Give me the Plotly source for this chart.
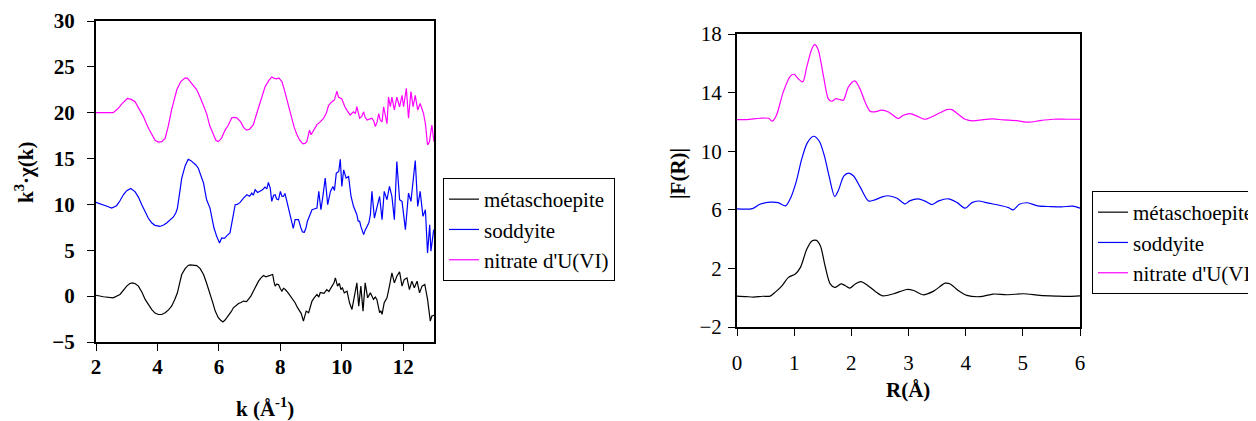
import plotly.graph_objects as go

# ---------------- Left panel: k^3 chi(k) ----------------
k_meta = [2.00,2.24,2.56,2.78,3.00,3.10,3.19,3.28,3.38,3.50,3.60,3.70,3.81,3.92,4.03,4.14,4.25,4.36,4.46,4.56,
          4.65,4.72,4.79,4.90,5.00,5.06,5.17,5.28,5.39,5.50,5.60,5.71,5.80,5.88,5.98,6.05,6.13,6.20,6.31,6.40,
          6.47,6.55,6.64,6.72,6.80,6.90,6.96,7.04,7.12,7.20,7.29,7.37,7.45,7.53,7.61,7.68,7.75,7.79,7.83,7.88,
          7.94,8.00,8.05,8.10,8.16,8.24,8.32,8.40,8.48,8.55,8.62,8.68,8.75,8.80,8.84,8.92,8.97,9.03,9.10,9.19,
          9.25,9.30,9.35,9.42,9.51,9.58,9.68,9.74,9.79,9.83,9.86,9.92,9.97,10.02,10.08,10.17,10.25,10.33,10.40,10.49,
          10.55,10.62,10.69,10.76,10.84,10.93,11.03,11.09,11.14,11.23,11.27,11.31,11.38,11.47,11.55,11.63,11.71,11.79,11.88,11.96,
          12.03,12.12,12.20,12.28,12.36,12.45,12.53,12.61,12.70,12.79,12.88,12.93,13.00]
chi_meta = [0.10,-0.07,-0.18,0.18,1.09,1.38,1.45,1.35,1.09,0.40,-0.36,-0.95,-1.45,-1.85,-2.00,-2.00,-1.81,-1.50,-1.09,-0.40,
            0.36,1.40,2.36,3.00,3.35,3.41,3.40,3.33,3.00,2.36,1.40,0.36,-0.70,-1.63,-2.35,-2.60,-2.82,-2.60,-2.17,-1.70,
            -1.27,-1.00,-0.80,-0.70,-0.54,-0.60,-0.36,0.00,0.54,1.10,1.63,2.00,2.25,2.10,2.17,2.30,2.36,1.60,1.09,1.30,
            1.27,0.80,0.54,0.85,0.72,0.40,0.00,-0.30,-0.72,-1.20,-1.63,-1.90,-2.72,-1.90,-1.63,-1.81,-1.10,-0.54,-0.20,0.18,
            -0.10,0.40,0.36,0.30,0.72,0.50,1.09,1.40,1.99,1.30,1.09,1.40,0.72,0.90,0.36,0.54,-0.72,-1.45,0.00,1.45,
            -1.09,1.09,-1.63,1.45,-0.18,0.36,-0.36,-0.10,-0.36,-1.81,-1.60,-1.99,-0.72,-0.18,1.09,2.54,1.45,2.17,2.65,1.09,
            1.81,1.99,0.72,1.63,0.91,1.63,0.36,1.09,1.27,-0.36,-2.72,-2.17,-2.10]

k_sod = [2.00,2.24,2.40,2.51,2.67,2.78,2.89,3.00,3.13,3.27,3.38,3.49,3.60,3.70,3.81,3.92,4.08,4.20,4.30,4.40,
         4.52,4.60,4.65,4.72,4.79,4.90,5.00,5.08,5.17,5.25,5.33,5.42,5.50,5.55,5.60,5.71,5.78,5.84,5.92,6.02,
         6.09,6.18,6.26,6.36,6.42,6.48,6.53,6.60,6.69,6.80,6.91,7.00,7.07,7.12,7.18,7.26,7.34,7.42,7.50,7.56,
         7.61,7.67,7.72,7.78,7.83,7.88,7.94,8.00,8.05,8.10,8.15,8.21,8.30,8.37,8.42,8.48,8.59,8.67,8.72,8.78,
         8.83,8.88,8.95,9.03,9.10,9.19,9.25,9.32,9.38,9.46,9.54,9.63,9.71,9.76,9.82,9.90,9.95,10.00,10.06,10.14,
         10.22,10.30,10.38,10.44,10.49,10.53,10.58,10.62,10.66,10.71,10.76,10.82,10.88,10.93,10.98,11.06,11.15,11.23,11.31,11.38,
         11.47,11.55,11.63,11.71,11.79,11.88,11.96,12.07,12.17,12.25,12.39,12.47,12.55,12.64,12.72,12.79,12.86,12.90,12.99]
chi_sod = [10.22,9.97,9.75,9.60,9.86,10.40,11.05,11.50,11.74,11.40,10.80,9.97,9.20,8.52,8.00,7.72,7.60,7.75,7.97,8.25,
           8.63,9.10,9.60,11.20,12.87,14.20,14.93,14.80,14.57,14.30,13.95,13.20,12.32,11.40,10.50,9.60,8.50,7.43,6.60,5.80,
           6.35,6.30,6.60,6.89,7.97,9.20,9.97,10.00,10.22,10.69,11.05,10.90,11.23,11.00,11.60,11.30,11.42,11.60,11.89,11.70,
           12.40,11.78,10.33,11.00,11.05,10.60,10.51,11.42,10.90,10.87,11.20,10.33,8.88,7.97,7.40,8.34,8.34,7.43,7.00,6.96,
           7.40,8.16,8.80,9.42,9.50,9.60,11.42,9.42,10.80,12.87,9.97,11.42,11.96,11.50,13.41,13.59,14.93,11.96,13.77,12.87,
           13.05,10.87,9.79,9.20,8.88,8.20,8.16,7.60,7.25,6.71,7.20,7.61,8.00,8.88,11.42,8.52,9.79,10.87,8.34,11.42,
           10.51,11.96,10.87,8.34,14.68,10.51,10.33,7.25,11.23,10.33,14.79,9.79,11.42,8.70,9.42,4.70,7.79,4.90,7.25]

k_nit = [2.00,2.30,2.56,2.70,2.85,3.02,3.15,3.27,3.40,3.54,3.68,3.81,3.92,4.03,4.14,4.25,4.35,4.46,4.55,4.63,
         4.76,4.90,4.98,5.06,5.17,5.28,5.40,5.50,5.60,5.70,5.82,5.90,5.98,6.08,6.20,6.30,6.42,6.50,6.58,6.71,
         6.80,6.90,7.00,7.12,7.22,7.34,7.42,7.50,7.62,7.72,7.80,7.88,7.95,8.05,8.13,8.21,8.29,8.37,8.45,8.54,
         8.63,8.73,8.80,8.86,8.95,9.00,9.10,9.19,9.30,9.41,9.50,9.57,9.68,9.76,9.84,9.89,10.00,10.05,10.10,10.18,
         10.27,10.38,10.44,10.49,10.58,10.65,10.71,10.76,10.82,10.90,10.98,11.04,11.09,11.15,11.20,11.25,11.31,11.36,11.42,11.47,
         11.52,11.58,11.63,11.67,11.71,11.79,11.88,11.96,12.01,12.10,12.17,12.25,12.32,12.39,12.47,12.55,12.61,12.66,12.72,12.79,
         12.85,12.88,12.93,13.00]
chi_nit = [20.00,20.00,20.00,20.40,21.00,21.55,21.45,21.20,20.50,19.60,18.50,17.60,17.00,16.80,16.85,17.20,18.50,20.30,21.50,22.50,
           23.40,23.80,23.75,23.40,23.00,22.50,21.60,20.70,19.90,18.60,17.60,17.00,16.85,17.20,18.10,18.60,19.45,19.50,19.45,19.00,
           18.40,18.10,18.20,18.70,19.80,21.00,22.00,22.80,23.50,23.90,23.75,23.70,23.80,23.40,22.50,21.40,20.30,19.20,18.40,17.60,
           17.00,16.60,16.65,16.85,18.10,17.60,18.20,18.70,19.00,19.40,20.00,20.80,21.20,21.40,22.35,21.70,21.50,21.00,20.65,20.20,
           19.75,20.10,19.90,20.65,19.40,19.60,20.10,19.50,19.20,19.30,19.40,19.10,18.50,19.00,19.90,19.20,19.00,20.65,19.50,18.80,
           21.70,20.65,21.70,21.00,20.30,21.70,20.65,21.90,20.65,22.65,19.40,22.30,20.65,21.90,20.30,21.00,20.30,19.90,18.80,16.50,
           16.80,17.40,18.65,16.85]

# ---------------- Right panel: |F(R)| ----------------
R_meta = [0.00,0.15,0.29,0.45,0.58,0.67,0.79,0.90,1.02,1.11,1.22,1.31,1.39,1.46,1.54,1.63,1.71,1.82,1.89,1.97,
          2.07,2.17,2.27,2.42,2.55,2.74,2.97,3.09,3.25,3.44,3.64,3.73,3.87,4.02,4.25,4.48,4.72,5.01,5.30,5.59,
          5.77,6.00]
F_meta = [0.11,0.08,0.04,0.10,0.11,0.38,0.83,1.39,1.62,2.07,3.30,3.87,3.91,3.53,2.18,0.94,0.70,0.94,0.83,0.65,
          0.94,1.10,0.88,0.43,0.13,0.27,0.56,0.49,0.20,0.45,0.99,0.94,0.49,0.16,0.07,0.25,0.20,0.27,0.16,0.11,
          0.09,0.13]

R_sod = [0.00,0.27,0.40,0.58,0.72,0.85,0.94,1.04,1.13,1.23,1.34,1.44,1.53,1.61,1.71,1.77,1.87,1.95,2.04,2.16,
         2.30,2.41,2.54,2.64,2.80,2.94,3.02,3.17,3.28,3.41,3.53,3.70,3.85,3.99,4.11,4.22,4.40,4.59,4.75,4.83,
         4.94,5.08,5.26,5.49,5.68,5.87,6.00]
F_sod = [6.06,6.08,6.38,6.52,6.49,6.27,6.83,7.97,9.44,10.57,11.02,10.68,9.66,8.31,6.90,7.29,8.31,8.50,8.31,7.51,
         6.60,6.68,6.88,6.96,6.79,6.40,6.61,6.75,6.61,6.36,6.61,6.75,6.49,6.11,6.49,6.60,6.45,6.31,6.15,6.00,
         6.38,6.48,6.27,6.22,6.20,6.25,6.11]

R_nit = [0.00,0.17,0.40,0.55,0.62,0.69,0.81,0.93,1.00,1.07,1.15,1.22,1.31,1.36,1.42,1.51,1.60,1.66,1.73,1.80,
         1.86,1.95,2.06,2.15,2.24,2.33,2.41,2.53,2.65,2.73,2.82,2.91,3.03,3.14,3.29,3.43,3.58,3.67,3.76,3.87,
         3.99,4.13,4.31,4.48,4.66,4.89,5.10,5.30,5.53,5.77,6.00]
F_nit = [12.16,12.16,12.25,12.25,12.05,12.45,14.05,15.11,15.25,14.95,14.73,15.75,17.00,17.27,16.93,15.18,13.55,13.41,13.59,13.52,
         13.48,14.39,14.80,14.27,13.36,12.73,12.68,12.80,12.68,12.45,12.23,12.45,12.57,12.41,12.18,12.39,12.68,12.84,12.84,12.52,
         12.18,12.07,12.16,12.20,12.14,12.09,11.98,12.09,12.18,12.18,12.18]

names = ["métaschoepite", "soddyite", "nitrate d'U(VI)"]
colors = ["#000000", "#0000FF", "#FF00FF"]

# The page body has an 8 px margin: the figure starts at (8, 8) in the window.
OFF = 8
W, H = 1256 - OFF, 421 - OFF
SERIF = "Liberation Serif"

fig = go.Figure()
left = [(k_meta, chi_meta), (k_sod, chi_sod), (k_nit, chi_nit)]
right = [(R_meta, F_meta), (R_sod, F_sod), (R_nit, F_nit)]
for i in range(3):
    fig.add_trace(go.Scatter(x=left[i][0], y=left[i][1], mode="lines", name=names[i],
                             line=dict(color=colors[i], width=1.2), xaxis="x", yaxis="y",
                             legend="legend"))
for i in range(3):
    fig.add_trace(go.Scatter(x=right[i][0], y=right[i][1], mode="lines", name=names[i],
                             line=dict(color=colors[i], width=1.2, shape="spline", smoothing=0.8),
                             xaxis="x2", yaxis="y2", legend="legend2"))

def px_x(p):
    return (p - OFF) / W

def px_y(p):
    return (421 - p) / H

axis_common = dict(showline=True, mirror=True, linewidth=2, linecolor="black",
                   ticks="outside", ticklen=7, tickwidth=1, tickcolor="black",
                   showgrid=False, zeroline=False, automargin=False)

bold_tick = dict(family=SERIF, size=21, color="black", weight="bold")
reg_tick = dict(family=SERIF, size=21, color="black")

fig.update_layout(
    width=W, height=H,
    font=dict(family=SERIF, color="black"),
    margin=dict(l=0, r=0, t=0, b=0, autoexpand=False),
    paper_bgcolor="white", plot_bgcolor="white",
    xaxis=dict(domain=[px_x(96), px_x(434)], range=[2, 13], dtick=2, tick0=2,
               tickfont=bold_tick, anchor="y", ticklabelstandoff=-2, **axis_common),
    yaxis=dict(domain=[px_y(342), px_y(21)], range=[-5, 30], dtick=5,
               tickfont=bold_tick, anchor="x", ticklabelstandoff=8, **axis_common),
    xaxis2=dict(domain=[px_x(737), px_x(1080)], range=[0, 6], dtick=1,
                tickfont=reg_tick, anchor="y2", ticklabelstandoff=9, **axis_common),
    yaxis2=dict(domain=[px_y(327), px_y(34)], range=[-2, 18], dtick=4, tick0=-2,
                tickfont=reg_tick, anchor="x2", ticklabelstandoff=2, **axis_common),
    legend=dict(x=px_x(443), y=px_y(178), xanchor="left", yanchor="top",
                bgcolor="white", bordercolor="black", borderwidth=1,
                font=dict(family=SERIF, size=21, color="black"), tracegroupgap=0),
    legend2=dict(x=px_x(1092), y=px_y(191), xanchor="left", yanchor="top",
                 bgcolor="white", bordercolor="black", borderwidth=1,
                 font=dict(family=SERIF, size=21, color="black"), tracegroupgap=0),
    showlegend=True,
)

title_font = dict(family=SERIF, size=21, color="black")
ann = dict(xref="paper", yref="paper", showarrow=False, font=title_font,
           xanchor="center", yanchor="middle")
fig.add_annotation(text="<b>k<sup>3</sup>·χ(k)</b>", x=px_x(25), y=px_y(173), textangle=-90, **ann)
fig.add_annotation(text="<b>k (Å<sup>-1</sup>)</b>", x=px_x(265), y=px_y(407), **ann)
fig.add_annotation(text="<b>|F(R)|</b>", x=px_x(678), y=px_y(174), textangle=-90, **ann)
fig.add_annotation(text="<b>R(Å)</b>", x=px_x(908), y=px_y(390), **ann)

fig.write_html("out.html")
